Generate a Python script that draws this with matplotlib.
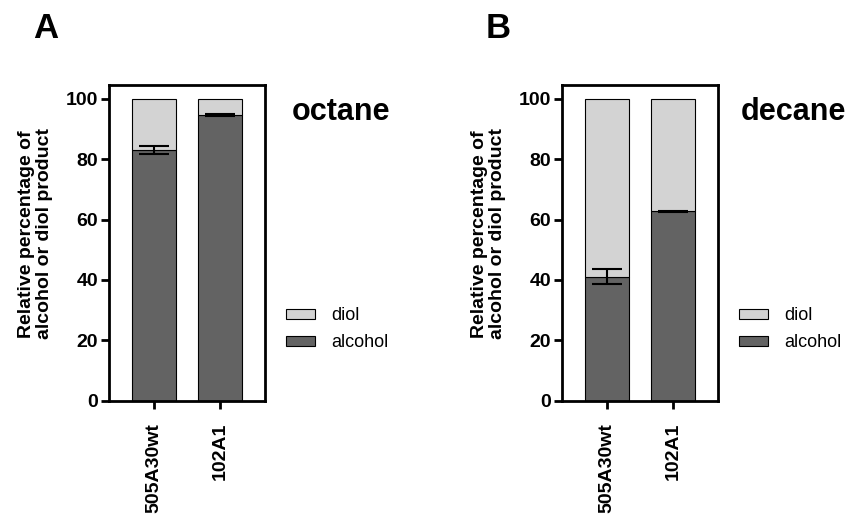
import numpy as np
import matplotlib.pyplot as plt
from matplotlib.patches import Patch

plt.rcParams['font.family'] = ['Liberation Sans', 'DejaVu Sans']

strains = ['505A30wt', '102A1']
alcohol_octane = [83.1, 94.7]
alcohol_octane_err = [1.3, 0.3]
alcohol_decane = [41.0, 62.7]
alcohol_decane_err = [2.5, 0.3]
substrates = ['octane', 'decane']
panels = ['A', 'B']

dark = '#636363'
light = '#d3d3d3'

fig = plt.figure(figsize=(8.49, 5.17), dpi=100)
W, H = 849, 517


def draw(left_px, alcohol, err, title, title_x, label):
    ax = fig.add_axes([left_px / W, (H - 400.5) / H, 156 / W, 316 / H])
    x = np.arange(len(strains))
    diol = [100 - a for a in alcohol]
    ax.bar(x, alcohol, width=0.66, color=dark, edgecolor='black', linewidth=0.8, zorder=2)
    ax.bar(x, diol, bottom=alcohol, width=0.66, color=light, edgecolor='black',
           linewidth=0.8, zorder=2)
    ax.errorbar(x, alcohol, yerr=err, fmt='none', ecolor='black', elinewidth=1.5,
                capsize=11, capthick=1.5, zorder=3)
    ax.set_xlim(-0.672, 1.68)
    ax.set_ylim(0, 104.8)
    ax.set_yticks(range(0, 101, 20))
    ax.set_xticks(x)
    ax.set_xticklabels(strains, rotation=90, fontsize=14, fontweight='bold')
    for t in ax.get_yticklabels():
        t.set_fontsize(14)
        t.set_fontweight('bold')
    for s in ax.spines.values():
        s.set_linewidth(2)
    ax.tick_params(axis='y', direction='out', length=6, width=2, pad=2)
    ax.tick_params(axis='x', direction='out', length=6, width=2, pad=10)
    ax.set_ylabel('Relative percentage of\nalcohol or diol product', fontsize=14,
                  fontweight='bold', linespacing=1.1)
    ax.yaxis.set_label_coords(-0.36, 0.527)
    ax.text(title_x, 0.913, title, transform=ax.transAxes, fontsize=22,
            fontweight='bold', ha='left', va='center')
    handles = [Patch(facecolor=light, edgecolor='black', linewidth=0.8, label='diol'),
               Patch(facecolor=dark, edgecolor='black', linewidth=0.8, label='alcohol')]
    ax.legend(handles=handles, loc='center left', bbox_to_anchor=(1.03, 0.225),
              frameon=False, fontsize=13, handlelength=1.6, handleheight=0.5,
              handletextpad=0.9, labelspacing=0.55)
    fig.text((left_px - 64) / W, 1 - 28 / H, label, fontsize=25, fontweight='bold',
             ha='center', va='center')
    return ax


draw(109.3, alcohol_octane, alcohol_octane_err, substrates[0], 1.171, panels[0])
draw(562.3, alcohol_decane, alcohol_decane_err, substrates[1], 1.142, panels[1])

fig.savefig('out.png', dpi=100)
